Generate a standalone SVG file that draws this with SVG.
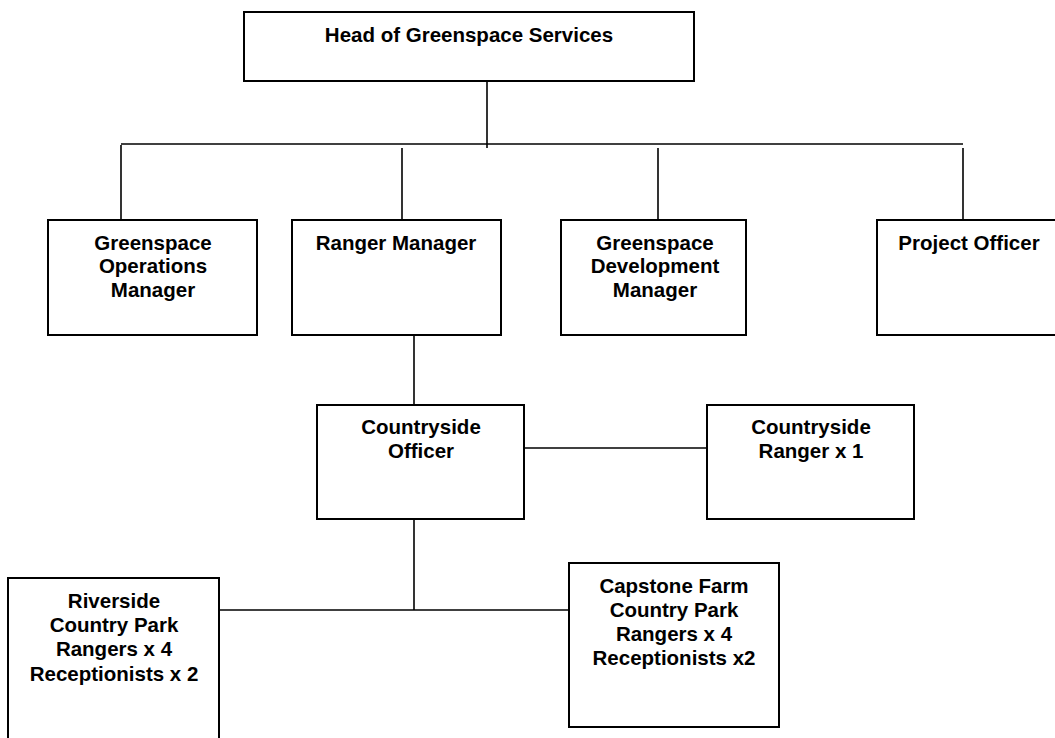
<svg xmlns="http://www.w3.org/2000/svg" width="1055" height="738" viewBox="0 0 1055 738">
<style>
.box{fill:#fff;stroke:#000;stroke-width:2}
.t{font-family:"Liberation Sans",Arial,sans-serif;font-weight:bold;font-size:20.5px;fill:#000;text-anchor:middle}
.c{stroke:#000;stroke-width:1.6;fill:none}
</style>
<rect width="1055" height="738" fill="#fff"/>
<g id="connectors">
<line class="c" x1="487" y1="81" x2="487" y2="148"/>
<line class="c" x1="121" y1="144" x2="963" y2="144"/>
<line class="c" x1="121" y1="145" x2="121" y2="220"/>
<line class="c" x1="402" y1="148" x2="402" y2="220"/>
<line class="c" x1="658" y1="148" x2="658" y2="220"/>
<line class="c" x1="963" y1="148" x2="963" y2="220"/>
<line class="c" x1="414" y1="336" x2="414" y2="405"/>
<line class="c" x1="524" y1="448" x2="707" y2="448"/>
<line class="c" x1="414" y1="519" x2="414" y2="610"/>
<line class="c" x1="219" y1="610" x2="569" y2="610"/>
</g>
<g id="head">
<rect class="box" x="244" y="12" width="450" height="69"/>
<text class="t" x="469" y="42">Head of Greenspace Services</text>
</g>
<g id="gom">
<rect class="box" x="48" y="220" width="209" height="115"/>
<text class="t" x="153" y="250">Greenspace</text>
<text class="t" x="153" y="273">Operations</text>
<text class="t" x="153" y="297">Manager</text>
</g>
<g id="ranger-manager">
<rect class="box" x="292" y="220" width="209" height="115"/>
<text class="t" x="396" y="250">Ranger Manager</text>
</g>
<g id="gdm">
<rect class="box" x="561" y="220" width="185" height="115"/>
<text class="t" x="655" y="250">Greenspace</text>
<text class="t" x="655" y="273">Development</text>
<text class="t" x="655" y="297">Manager</text>
</g>
<g id="project-officer">
<rect class="box" x="877" y="220" width="185" height="115"/>
<text class="t" x="969" y="250">Project Officer</text>
</g>
<g id="countryside-officer">
<rect class="box" x="317" y="405" width="207" height="114"/>
<text class="t" x="421" y="434">Countryside</text>
<text class="t" x="421" y="458">Officer</text>
</g>
<g id="countryside-ranger">
<rect class="box" x="707" y="405" width="207" height="114"/>
<text class="t" x="811" y="434">Countryside</text>
<text class="t" x="811" y="458">Ranger x 1</text>
</g>
<g id="riverside">
<rect class="box" x="8" y="578" width="211" height="180"/>
<text class="t" x="114" y="608">Riverside</text>
<text class="t" x="114" y="632">Country Park</text>
<text class="t" x="114" y="656">Rangers x 4</text>
<text class="t" x="114" y="681">Receptionists x 2</text>
</g>
<g id="capstone">
<rect class="box" x="569" y="563" width="210" height="164"/>
<text class="t" x="674" y="593">Capstone Farm</text>
<text class="t" x="674" y="617">Country Park</text>
<text class="t" x="674" y="641">Rangers x 4</text>
<text class="t" x="674" y="665">Receptionists x2</text>
</g>
</svg>
